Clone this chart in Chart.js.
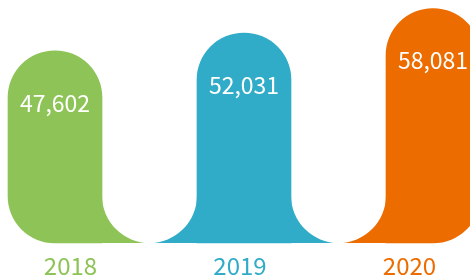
<!DOCTYPE html>
<html>
<head>
<meta charset="utf-8">
<script src="https://cdn.jsdelivr.net/npm/chart.js@4/dist/chart.umd.min.js"></script>
<style>
html,body{margin:0;padding:0;background:#fff;overflow:hidden;}
#wrap{position:relative;width:470px;height:279px;}
</style>
</head>
<body>
<div id="wrap"><canvas id="c" width="470" height="279"></canvas></div>
<script>
const years = ['2018', '2019', '2020'];
const values = [47602, 52031, 58081];
const colors = ['#8EC457', '#31ACC8', '#EC6C00'];

const FONT = '"Noto Sans CJK SC", "Noto Sans", sans-serif';
const R = 47;

const fillets = {
  id: 'fillets',
  beforeDatasetsDraw(chart) {
    const meta = chart.getDatasetMeta(0);
    const bars = meta.data;
    const ctx = chart.ctx;
    ctx.save();
    for (let i = 0; i < bars.length - 1; i++) {
      const a = bars[i], b = bars[i + 1];
      const right = a.x + a.width / 2;
      const left = b.x - b.width / 2;
      const mid = (right + left) / 2;
      const r = (left - right) / 2;
      const base = a.base;
      ctx.fillStyle = colors[i];
      ctx.beginPath();
      ctx.moveTo(right - 0.5, base - r);
      ctx.lineTo(right - 0.5, base);
      ctx.lineTo(mid + 0.3, base);
      ctx.arc(mid, base - r, r, Math.PI / 2, Math.PI, false);
      ctx.closePath();
      ctx.fill();
      ctx.fillStyle = colors[i + 1];
      ctx.beginPath();
      ctx.moveTo(left + 0.5, base - r);
      ctx.lineTo(left + 0.5, base);
      ctx.lineTo(mid - 0.3, base);
      ctx.arc(mid, base - r, r, Math.PI / 2, 0, true);
      ctx.closePath();
      ctx.fill();
    }
    ctx.restore();
  },
  afterDatasetsDraw(chart) {
    const meta = chart.getDatasetMeta(0);
    const ctx = chart.ctx;
    ctx.save();
    ctx.fillStyle = '#ffffff';
    ctx.font = '23px ' + FONT;
    ctx.textAlign = 'center';
    ctx.textBaseline = 'middle';
    meta.data.forEach((bar, i) => {
      ctx.fillText(values[i].toLocaleString('en-US'), bar.x, bar.y + 52);
    });
    ctx.restore();
  }
};

const n = values.length;
new Chart(document.getElementById('c'), {
  type: 'bar',
  data: {
    datasets: [{
      data: values.map((v, i) => ({ x: i, y: v })),
      backgroundColor: colors,
      borderWidth: 0,
      borderSkipped: false,
      barThickness: 94,
      clip: false,
      borderRadius: (c) => ({
        topLeft: R, topRight: R,
        bottomLeft: c.dataIndex === 0 ? R : 0,
        bottomRight: c.dataIndex === n - 1 ? R : 0
      })
    }]
  },
  options: {
    responsive: false,
    animation: false,
    events: [],
    layout: { padding: { left: 0, right: 0, top: 0, bottom: 0 } },
    plugins: { legend: { display: false }, tooltip: { enabled: false } },
    scales: {
      x: {
        type: 'linear',
        display: false,
        offset: false,
        min: -0.29101,
        max: 2.19577
      },
      x2: {
        type: 'linear',
        position: 'bottom',
        offset: false,
        min: -0.41593,
        max: 2.35693,
        afterBuildTicks: (axis) => { axis.ticks = years.map((_, i) => ({ value: i })); },
        afterFit: (axis) => { axis.height = 36; },
        grid: { display: false, drawTicks: false, tickLength: 0, offset: false },
        border: { display: false },
        ticks: {
          autoSkip: false,
          maxRotation: 0,
          padding: 12,
          font: { family: FONT, size: 24, lineHeight: 0.875 },
          color: (c) => colors[c.index],
          callback: (v) => years[v]
        }
      },
      y: {
        display: false,
        min: 0,
        max: 60200
      }
    }
  },
  plugins: [fillets]
});
</script>
</body>
</html>
